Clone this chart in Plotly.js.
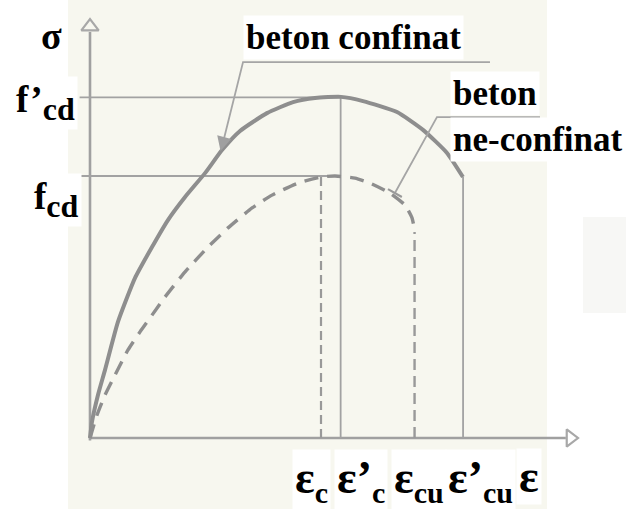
<!DOCTYPE html>
<html>
<head>
<meta charset="utf-8">
<script src="https://cdn.plot.ly/plotly-3.0.1.min.js"></script>
<style>
  html, body { margin: 0; padding: 0; background: #ffffff; }
  #chart { width: 626px; height: 509px; }
</style>
</head>
<body>
<div id="chart"></div>
<script>
// Stress-strain diagram: confined vs. unconfined concrete.
// Strain in per mille, stress relative to f_cd.

// characteristic strains
const strainMarks = [2.00, 2.17, 2.81, 3.23];
const strainMarkLabels = ['ε<sub>c</sub>', 'ε’<sub>c</sub>', 'ε<sub>cu</sub>', 'ε’<sub>cu</sub>'];

// design strengths
const stressMarks = [1.00, 1.30];
const stressMarkLabels = ['f<sub>cd</sub>', 'f’<sub>cd</sub>'];

// confined concrete (solid curve)
const confinedStrain = [0, 0.017, 0.069, 0.130, 0.242, 0.390, 0.537, 0.675, 0.823, 0.996, 1.143,
  1.299, 1.532, 1.758, 1.948, 2.173, 2.364, 2.658, 2.883, 3.091, 3.229];
const confinedStress = [0, 0.061, 0.164, 0.260, 0.443, 0.611, 0.729, 0.832, 0.920, 1.011, 1.099,
  1.172, 1.240, 1.282, 1.298, 1.302, 1.286, 1.244, 1.176, 1.088, 0.996];

// unconfined concrete (dashed curve)
const unconfinedStrain = [0, 0.061, 0.130, 0.216, 0.329, 0.433, 0.537, 0.649, 0.823, 1.022, 1.195,
  1.403, 1.576, 1.801, 2.000, 2.121, 2.294, 2.424, 2.597, 2.727, 2.788, 2.814];
const unconfinedStress = [0, 0.088, 0.164, 0.240, 0.336, 0.405, 0.469, 0.538, 0.634, 0.729, 0.802,
  0.878, 0.927, 0.973, 0.996, 1.000, 0.992, 0.973, 0.935, 0.889, 0.840, 0.786];

const FIG_W = 626, FIG_H = 509;
const PX_PER_STRAIN = 115.5, PX_PER_STRESS = 262, ORIGIN_X = 90, ORIGIN_Y = 438;
const xRange = [-ORIGIN_X / PX_PER_STRAIN, (FIG_W - ORIGIN_X) / PX_PER_STRAIN];
const yRange = [-(FIG_H - ORIGIN_Y) / PX_PER_STRESS, ORIGIN_Y / PX_PER_STRESS];
const toPaperX = v => v / FIG_W;
const toPaperY = v => 1 - v / FIG_H;

const [epsC, epsCc, epsCu, epsCuc] = strainMarks;
const [fcd, fcdc] = stressMarks;
const confinedEnd = confinedStress[confinedStress.length - 1];
const unconfinedEnd = unconfinedStress[unconfinedStress.length - 1];

const INK = '#8e8e8e';
const THIN = '#a2a2a2';
const TEXT_FONT = 'Liberation Serif';

function lineTrace(x, y, opts) {
  return Object.assign({
    x, y, type: 'scatter', mode: 'lines', hoverinfo: 'skip', showlegend: false,
    line: { color: THIN, width: 1.8 }
  }, opts || {});
}

const traces = [
  // axes
  lineTrace([0, 0], [-0.01, 1.55], { line: { color: '#a0a0a0', width: 2.6 } }),
  lineTrace([-0.01, 4.12], [0, 0], { line: { color: '#a0a0a0', width: 2.6 } }),
  {
    x: [0, 4.16], y: [1.57, 0], type: 'scatter', mode: 'markers', hoverinfo: 'skip', showlegend: false,
    marker: { symbol: ['triangle-up-open', 'triangle-right-open'], size: 15, color: '#a8a8a8', line: { width: 2.2, color: '#a8a8a8' } }
  },
  // reference levels
  lineTrace([-0.09, epsCc], [fcdc, fcdc]),
  lineTrace([-0.09, epsCc], [fcd, fcd]),
  lineTrace([epsCc, epsCc], [0, fcdc]),
  lineTrace([epsCuc, epsCuc], [0, confinedEnd]),
  lineTrace([epsC, epsC], [0, fcd], { line: { color: '#999999', width: 2.2, dash: '9px,5px' } }),
  lineTrace([epsCu, epsCu], [0, unconfinedEnd], { line: { color: '#999999', width: 2.4, dash: '11px,6px' } }),
  // curves
  lineTrace(unconfinedStrain, unconfinedStress, { line: { color: INK, width: 3.4, dash: '14px,9px', shape: 'spline', smoothing: 0.5 } }),
  lineTrace(confinedStrain, confinedStress, { line: { color: INK, width: 4, shape: 'spline', smoothing: 0.5 } }),
  // leader lines
  lineTrace([3.463, 1.325, 1.15], [1.435, 1.435, 1.125], { line: { color: '#a5a5a5', width: 1.8 } }),
  lineTrace([3.896, 3.004, 2.64], [1.225, 1.225, 0.935], { line: { color: '#a5a5a5', width: 1.8 } }),
  lineTrace([2.58, 2.70], [0.95, 0.92], { line: { color: '#9a9a9a', width: 2.2 } })
];

function textLabel(text, x, y, size) {
  return {
    xref: 'paper', yref: 'paper', x: toPaperX(x), y: toPaperY(y), xanchor: 'left', yanchor: 'middle',
    text: '<b>' + text + '</b>', showarrow: false, bgcolor: '#ffffff', borderpad: 2,
    font: { family: TEXT_FONT, size: size, color: '#000000' }
  };
}
// bold subscript at an explicit size
const subscript = (s, size) => '<sub><span style="font-size:' + size + 'px"><b>' + s + '</b></span></sub>';
const epsLabel = t => t.replace(/<sub>(.*?)<\/sub>/, (m, s) => subscript(s, 30));
const fLabel = t => t.replace(/<sub>(.*?)<\/sub>/, (m, s) => subscript(s, 32));

const annotations = [
  textLabel('σ', 38, 36, 38),
  textLabel(fLabel(stressMarkLabels[1]), 13, 103, 37),
  textLabel(fLabel(stressMarkLabels[0]), 31, 200, 37),
  textLabel('beton confinat', 243, 38, 35),
  textLabel('beton', 450, 94, 35),
  textLabel('ne-confinat', 450, 140, 35),
  textLabel(epsLabel(strainMarkLabels[0]), 292, 480, 46),
  textLabel(epsLabel(strainMarkLabels[1]), 334, 480, 46),
  textLabel(epsLabel(strainMarkLabels[2]), 391, 480, 46),
  textLabel(epsLabel(strainMarkLabels[3]), 445, 480, 46),
  textLabel('ε', 516, 476, 46),
  // arrowhead on the confined-concrete leader
  {
    xref: 'x', yref: 'y', axref: 'x', ayref: 'y', x: 1.13, y: 1.095, ax: 1.16, ay: 1.145,
    showarrow: true, arrowhead: 2, arrowsize: 1.6, arrowwidth: 1.8, arrowcolor: '#a0a0a0', text: ''
  }
];

const layout = {
  width: FIG_W, height: FIG_H,
  margin: { l: 0, r: 0, t: 0, b: 0 },
  font: { family: TEXT_FONT },
  paper_bgcolor: '#ffffff', plot_bgcolor: 'rgba(0,0,0,0)',
  showlegend: false,
  xaxis: { range: xRange, visible: false, fixedrange: true },
  yaxis: { range: yRange, visible: false, fixedrange: true },
  shapes: [
    { type: 'rect', xref: 'paper', yref: 'paper', x0: toPaperX(68), x1: toPaperX(547), y0: 0, y1: 1,
      fillcolor: '#f7f7ef', line: { width: 0 }, layer: 'below' },
    { type: 'rect', xref: 'paper', yref: 'paper', x0: toPaperX(583), x1: 1, y0: toPaperY(313), y1: toPaperY(217),
      fillcolor: '#f7f7f5', line: { width: 0 }, layer: 'below' }
  ],
  annotations
};

Plotly.newPlot('chart', traces, layout, { staticPlot: true, displayModeBar: false });
</script>
</body>
</html>
